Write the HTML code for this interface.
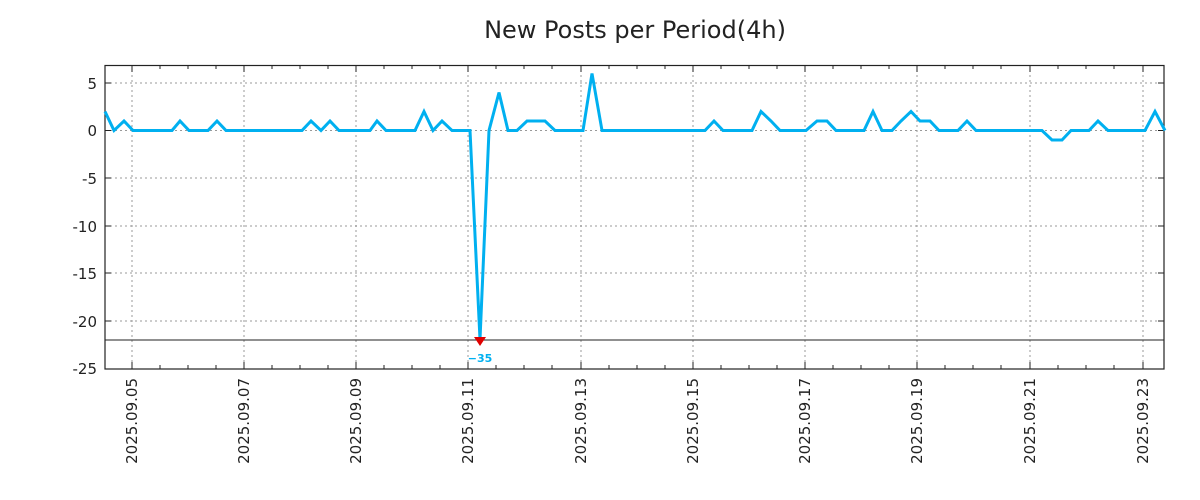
<!DOCTYPE html>
<html><head><meta charset="utf-8"><style>
html,body{margin:0;padding:0;background:#fff;}
svg{display:block;font-family:"DejaVu Sans","Liberation Sans",sans-serif;}
</style></head><body>
<svg width="1200" height="500" viewBox="0 0 1200 500" xmlns="http://www.w3.org/2000/svg">
<rect width="1200" height="500" fill="#fff"/>
<text x="635" y="38" font-size="24" text-anchor="middle" fill="#222">New Posts per Period(4h)</text>
<g stroke="#999" stroke-width="1" stroke-dasharray="2,3">
<line x1="105" y1="83" x2="1164" y2="83"/><line x1="105" y1="130.5" x2="1164" y2="130.5"/>
<line x1="105" y1="178" x2="1164" y2="178"/><line x1="105" y1="226" x2="1164" y2="226"/>
<line x1="105" y1="273" x2="1164" y2="273"/><line x1="105" y1="321" x2="1164" y2="321"/>
<line x1="132" y1="65" x2="132" y2="369"/><line x1="244" y1="65" x2="244" y2="369"/>
<line x1="356" y1="65" x2="356" y2="369"/><line x1="468" y1="65" x2="468" y2="369"/>
<line x1="581" y1="65" x2="581" y2="369"/><line x1="693" y1="65" x2="693" y2="369"/>
<line x1="805" y1="65" x2="805" y2="369"/><line x1="917" y1="65" x2="917" y2="369"/>
<line x1="1030" y1="65" x2="1030" y2="369"/><line x1="1143" y1="65" x2="1143" y2="369"/>
</g>
<g stroke="#222" stroke-width="1">
<path d="M160,65v4M188,65v4M216,65v4M272,65v4M300,65v4M328,65v4M384,65v4M412,65v4M440,65v4M496,65v4M524,65v4M552,65v4M609,65v4M637,65v4M665,65v4M721,65v4M749,65v4M777,65v4M833,65v4M861,65v4M889,65v4M945,65v4M973,65v4M1001,65v4M1058,65v4M1086,65v4M1114,65v4"/>
<path d="M160,369v-4M188,369v-4M216,369v-4M272,369v-4M300,369v-4M328,369v-4M384,369v-4M412,369v-4M440,369v-4M496,369v-4M524,369v-4M552,369v-4M609,369v-4M637,369v-4M665,369v-4M721,369v-4M749,369v-4M777,369v-4M833,369v-4M861,369v-4M889,369v-4M945,369v-4M973,369v-4M1001,369v-4M1058,369v-4M1086,369v-4M1114,369v-4"/>
<path d="M132,65v7M244,65v7M356,65v7M468,65v7M581,65v7M693,65v7M805,65v7M917,65v7M1030,65v7M1143,65v7"/>
<path d="M132,369v-7M244,369v-7M356,369v-7M468,369v-7M581,369v-7M693,369v-7M805,369v-7M917,369v-7M1030,369v-7M1143,369v-7"/>
<path d="M105,83h6M105,130.5h6M105,178h6M105,226h6M105,273h6M105,321h6M1164,83h-6M1164,130.5h-6M1164,178h-6M1164,226h-6M1164,273h-6M1164,321h-6"/>
<line x1="105" y1="340" x2="1164" y2="340"/>
<rect x="105" y="65.5" width="1059" height="303.5" fill="none" stroke-width="1.2"/>
</g>
<g font-size="15" fill="#222" text-anchor="end">
<text x="97" y="89">5</text><text x="97" y="136">0</text><text x="97" y="184">-5</text>
<text x="97" y="232">-10</text><text x="97" y="279">-15</text><text x="97" y="327">-20</text><text x="97" y="374">-25</text>
</g>
<g font-size="15" fill="#222" text-anchor="end">
<text transform="translate(137,378) rotate(-90)">2025.09.05</text>
<text transform="translate(249,378) rotate(-90)">2025.09.07</text>
<text transform="translate(361,378) rotate(-90)">2025.09.09</text>
<text transform="translate(473,378) rotate(-90)">2025.09.11</text>
<text transform="translate(586,378) rotate(-90)">2025.09.13</text>
<text transform="translate(698,378) rotate(-90)">2025.09.15</text>
<text transform="translate(810,378) rotate(-90)">2025.09.17</text>
<text transform="translate(922,378) rotate(-90)">2025.09.19</text>
<text transform="translate(1035,378) rotate(-90)">2025.09.21</text>
<text transform="translate(1148,378) rotate(-90)">2025.09.23</text>
</g>
<polyline fill="none" stroke="#00b0f0" stroke-width="3" stroke-linejoin="miter" points="105,111.5 114,130.5 124,121 133,130.5 172,130.5 180,121 189,130.5 208,130.5 217,121 226,130.5 302,130.5 311,121 321,130.5 330,121 339,130.5 370,130.5 377,121 386,130.5 415,130.5 424,111.5 433,130.5 442,121 452,130.5 470,130.5 480,339.5 489,130.5 499,92.5 508,130.5 517,130.5 527,121 545,121 555,130.5 583,130.5 592,73.5 602,130.5 705,130.5 714,121 723,130.5 752,130.5 761,111.5 771,121 780,130.5 806,130.5 817,121 827,121 836,130.5 864,130.5 873,111.5 882,130.5 892,130.5 901,121 911,111.5 920,121 930,121 939,130.5 958,130.5 967,121 976,130.5 1042,130.5 1052,140 1062,140 1071,130.5 1089,130.5 1098,121 1108,130.5 1145,130.5 1155,111.5 1165,130.5"/>
<polygon points="474,337 486,337 480,346" fill="#e00000"/>
<text x="480" y="362" font-size="11" font-weight="bold" fill="#00b0f0" text-anchor="middle">−35</text>
</svg>
</body></html>
